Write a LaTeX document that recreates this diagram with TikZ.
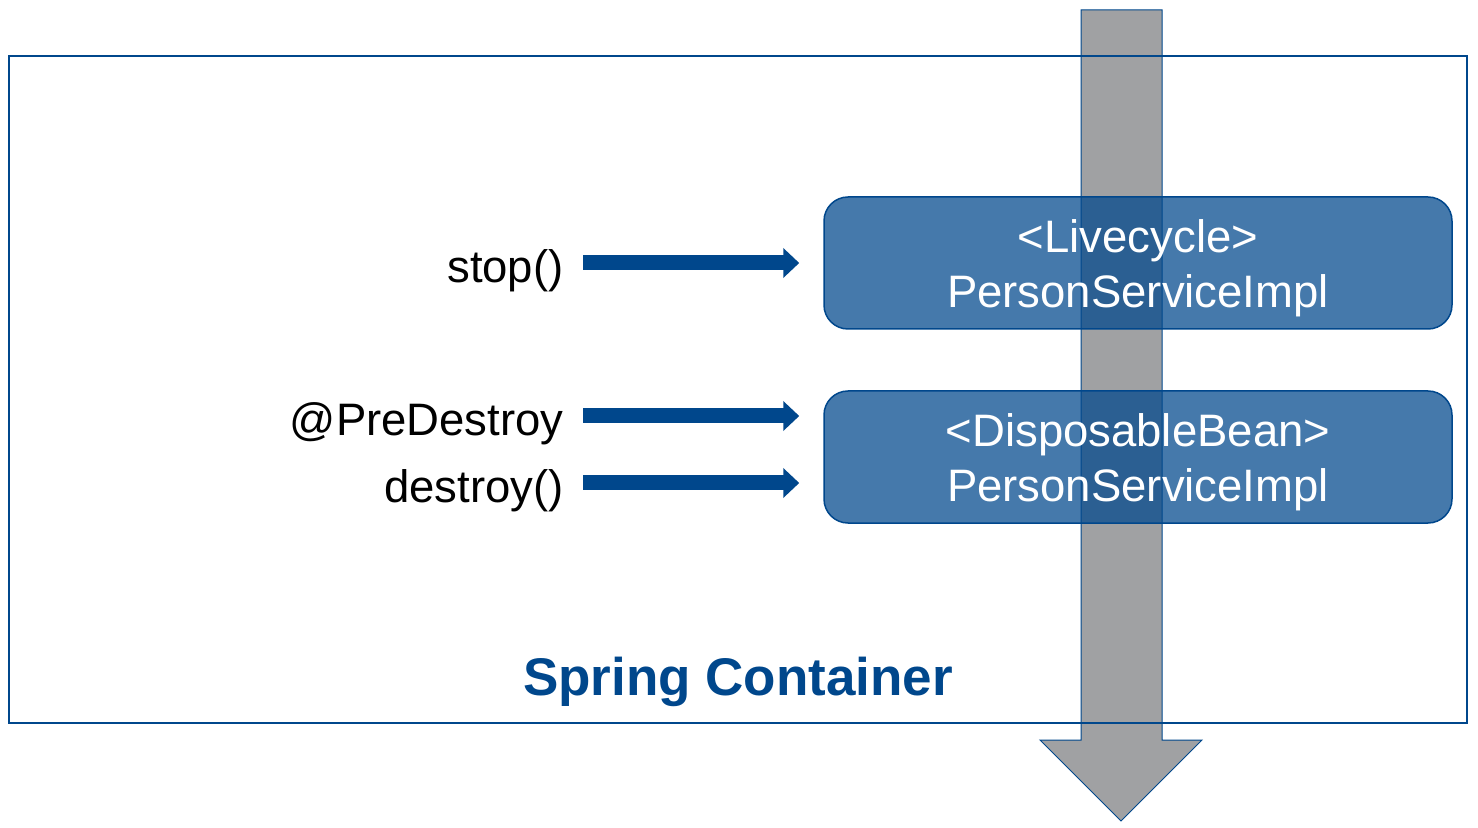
\documentclass[tikz,border=0pt]{standalone}
\usepackage{fontspec}
\setmainfont{Liberation Sans}
\usetikzlibrary{arrows.meta,positioning}
\definecolor{springblue}{RGB}{0,71,140}
\definecolor{flowgray}{RGB}{160,161,163}

\begin{document}
\begin{tikzpicture}%
		[x=0.5pt, y=-0.5pt,
		font=\fontsize{22.75}{27.5}\selectfont,
		>={Triangle[width=14.5pt,length=8pt]}
		]
		\tikzstyle{bean}=[rounded corners=12pt, draw=springblue, line width=0.75pt, fill=springblue, fill opacity=0.73, minimum width=314pt, minimum height=66pt]
		\tikzstyle{beantext}=[text=white, align=center, inner sep=0pt]
		\tikzstyle{call}=[anchor=east, inner sep=0pt]
		\tikzstyle{flow}=[->, color=springblue, line width=7.5pt, shorten <=9.5pt, shorten >=12pt]
		\useasboundingbox (0,0) rectangle (1478,828);
		
		% lifecycle direction
		\draw[fill=flowgray, draw=springblue, line width=0.5pt]
		(1081,10) -- (1162,10) -- (1162,740) -- (1202,740) -- (1121,821) -- (1040,740) -- (1081,740) -- cycle;
		
		\node[draw=springblue, line width=1pt, inner sep=0pt, minimum width=729pt, minimum height=333.5pt] (container) at (738,389.5) {};
		\node[font=\fontsize{26.5}{32}\selectfont\bfseries, text=springblue] (title) at (738,682) {Spring Container};
		
		\node[bean] (life) at (1138,263) {};
		\node[beantext] (lifetext) at ([yshift=-2.5pt]life.center) {<Livecycle>\\PersonServiceImpl};
		\node[bean] (disp) at (1138,457) {};
		\node[beantext] (disptext) at ([yshift=-2.5pt]disp.center) {<DisposableBean>\\PersonServiceImpl};
		
		\node[call] (stop)       at (564,271) {stop()};
		\node[call] (predestroy) at (564,424) {@PreDestroy};
		\node[call] (destroy)    at (564,491) {destroy()};
		
		\path
		%   FROM                        TO
		([yshift=4pt]stop.east)       edge[flow] ([yshift=4pt]life.west |- stop.east)
		([yshift=4pt]predestroy.east) edge[flow] ([yshift=4pt]disp.west |- predestroy.east)
		([yshift=4pt]destroy.east)    edge[flow] ([yshift=4pt]disp.west |- destroy.east)
		;
\end{tikzpicture}
\end{document}
